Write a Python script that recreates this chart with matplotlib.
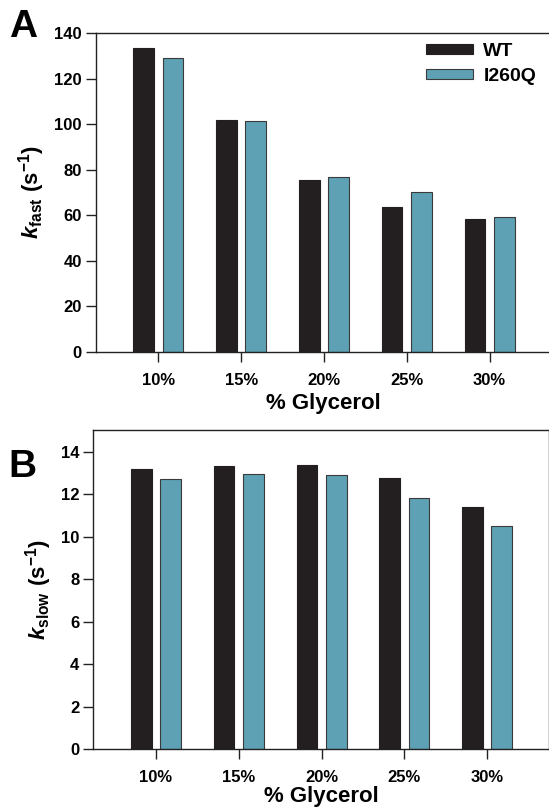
import numpy as np
import matplotlib.pyplot as plt

plt.rcParams['font.family'] = ['Liberation Sans', 'DejaVu Sans']
plt.rcParams['font.weight'] = 'bold'
plt.rcParams['mathtext.fontset'] = 'custom'
plt.rcParams['mathtext.rm'] = 'Liberation Sans:bold'
plt.rcParams['mathtext.it'] = 'Liberation Sans:italic:bold'
plt.rcParams['mathtext.bf'] = 'Liberation Sans:bold'

glycerol = ['10%', '15%', '20%', '25%', '30%']
kfast_wt = [133.6, 101.8, 75.5, 63.8, 58.4]
kfast_mut = [129.3, 101.5, 76.8, 70.1, 59.4]
kslow_wt = [13.17, 13.34, 13.39, 12.77, 11.38]
kslow_mut = [12.71, 12.95, 12.92, 11.83, 10.50]

black = '#231f20'
blue = '#5fa1b4'
edge = '#3a3a3a'

W, H = 549, 807
fig = plt.figure(figsize=(W / 100, H / 100), dpi=100)
# axes boxes in pixels: left, top, width, height
axA = fig.add_axes([95.7 / W, 1 - 351.7 / H, 455.5 / W, 318.4 / H])
axB = fig.add_axes([93.3 / W, 1 - 749.3 / H, 455.5 / W, 319.0 / H])

x = np.arange(len(glycerol))
w = 0.25
off = 0.177

def draw(ax, wt, mut, ymax, yticks, ylabel, xpad):
    ax.bar(x - off, wt, w, color=black, edgecolor=black, linewidth=0.8, label='WT')
    ax.bar(x + off, mut, w, color=blue, edgecolor=edge, linewidth=0.8, label='I260Q')
    ax.set_xlim(-0.757, 4.745)
    ax.set_ylim(0, ymax)
    ax.set_yticks(yticks)
    ax.set_xticks(x)
    ax.set_xticklabels(glycerol)
    for s in ax.spines.values():
        s.set_linewidth(1.0)
        s.set_color('#222222')
    ax.tick_params(axis='both', direction='out', length=7, width=1.0,
                   color='#222222', labelsize=12)
    ax.tick_params(axis='x', pad=8)
    ax.tick_params(axis='y', pad=3)
    ax.set_xlabel('% Glycerol', fontsize=16, fontweight='bold', labelpad=xpad)
    ax.set_ylabel(ylabel, fontsize=16, labelpad=5)

draw(axA, kfast_wt, kfast_mut, 140, np.arange(0, 141, 20),
     r'$k_{\mathrm{fast}}\ (\mathrm{s}^{-1})$', 4)
draw(axB, kslow_wt, kslow_mut, 15, np.arange(0, 15, 2),
     r'$k_{\mathrm{slow}}\ (\mathrm{s}^{-1})$', 0.5)

leg = axA.legend(loc='upper left', bbox_to_anchor=(426 / W, 1 - 43 / H),
                 bbox_transform=fig.transFigure, frameon=False,
                 borderpad=0, borderaxespad=0,
                 fontsize=14, handlelength=2.4, handleheight=0.4,
                 handletextpad=0.55, labelspacing=0.42)

fig.text(9 / W, 1 - 27 / H, 'A', fontsize=28, fontweight='bold', va='center')
fig.text(8 / W, 1 - 467 / H, 'B', fontsize=28, fontweight='bold', va='center')

fig.savefig('out.png', dpi=100)
